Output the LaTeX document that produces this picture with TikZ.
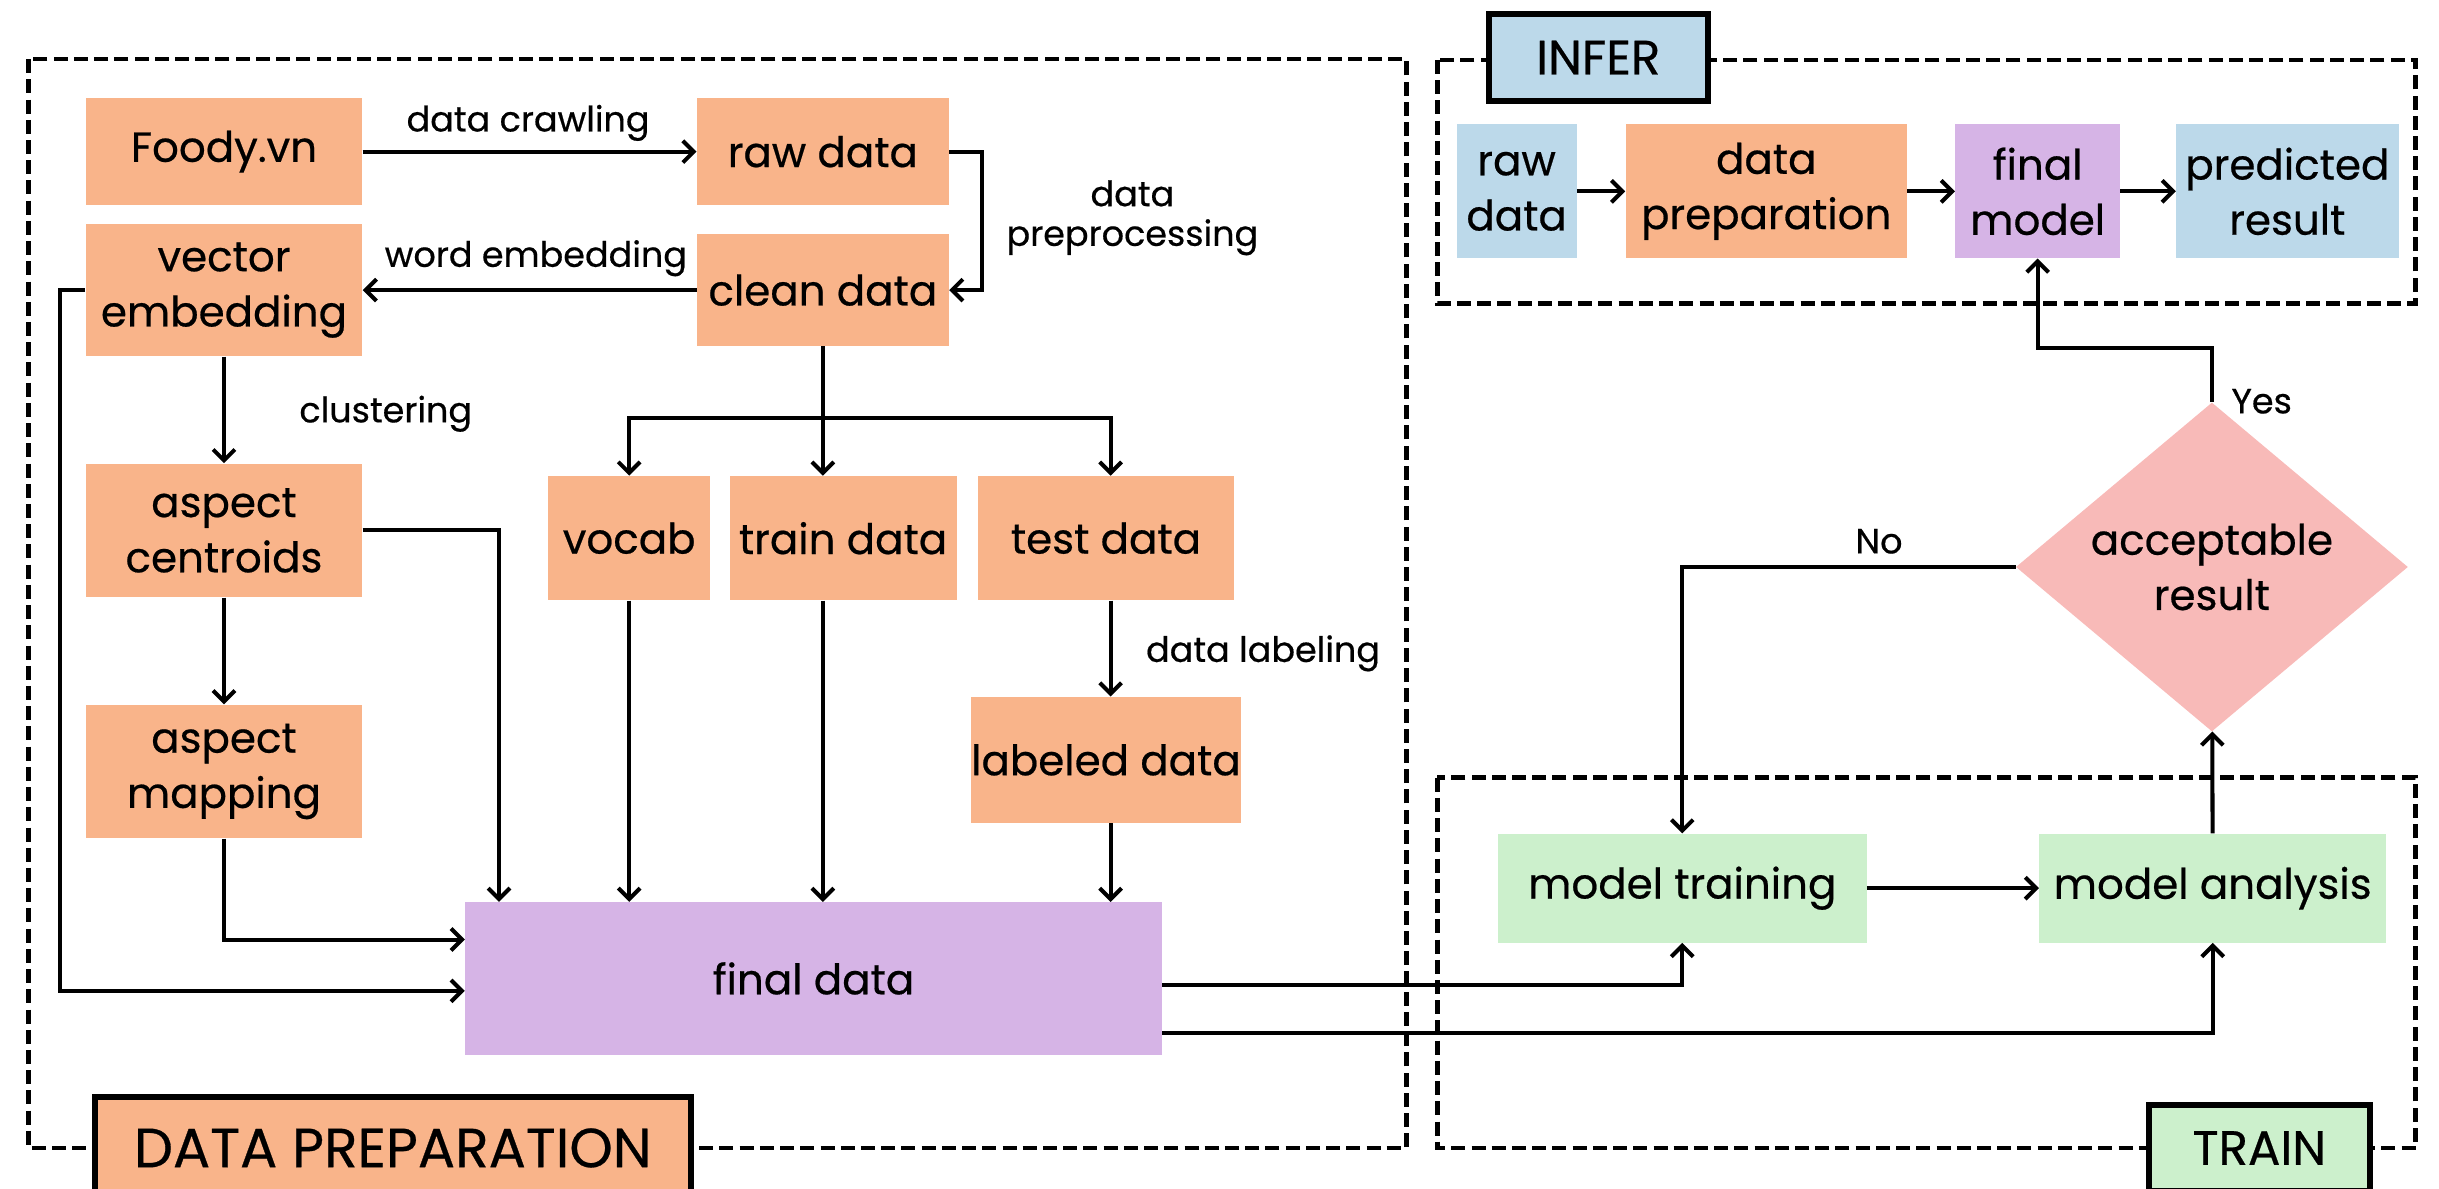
\documentclass[tikz,border=0pt]{standalone}
\usepackage{fontspec}
\setmainfont{Poppins}[FakeBold=0.5]
\usetikzlibrary{arrows.meta,shapes.geometric,calc}

\definecolor{prepfill}{RGB}{249,180,138}
\definecolor{finalfill}{RGB}{214,180,230}
\definecolor{inferfill}{RGB}{188,217,234}
\definecolor{trainfill}{RGB}{204,240,204}
\definecolor{decisionfill}{RGB}{248,186,184}

\tikzset{
  box/.style={rectangle, inner sep=0pt, align=center,
    font=\fontsize{27}{35.5}\selectfont},
  prep/.style={box, fill=prepfill},
  fin/.style={box, fill=finalfill},
  inf/.style={box, fill=inferfill},
  trn/.style={box, fill=trainfill},
  decision/.style={diamond, fill=decisionfill, inner sep=0pt, align=center,
    font=\fontsize{27}{35.5}\selectfont},
  arr/.style={line width=2.6pt, -{Straight Barb[length=7pt,width=14pt]}},
  elabel/.style={inner sep=0pt, align=center, font=\fontsize{22.5}{25.5}\selectfont},
  frame/.style={line width=3pt, dash pattern=on 9pt off 4pt},
  tag/.style={draw, line width=4pt, inner sep=0pt, align=center}
}

\begin{document}
\begin{tikzpicture}[x=1pt,y=-1pt]
\useasboundingbox (0,0) rectangle (1568,764);

% stage frames
\draw[frame] (18.5,38) rectangle (904,738);
\draw[frame] (924,38.6) rectangle (1553,195);
\draw[frame] (924,500) rectangle (1553,738);

% stage tags
\node[tag, fill=prepfill, minimum width=383pt, minimum height=66pt,
  font=\fontsize{35.5}{38}\selectfont] (tagprep) at (252.5,738) {DATA PREPARATION};
\node[tag, fill=inferfill, minimum width=141pt, minimum height=56pt,
  font=\fontsize{31}{34}\selectfont] (taginfer) at (1027.5,37) {INFER};
\node[tag, fill=trainfill, minimum width=142pt, minimum height=55pt,
  font=\fontsize{31}{34}\selectfont] (tagtrain) at (1452.5,738) {TRAIN};

% data preparation nodes
\node[prep, minimum width=178pt, minimum height=69pt] (foody) at (144,97.5) {Foody.vn};
\node[prep, minimum width=162pt, minimum height=69pt] (raw) at (529,97.5) {raw data};
\node[prep, minimum width=178pt, minimum height=85pt] (vec) at (144,186.5) {vector\\embedding};
\node[prep, minimum width=162pt, minimum height=72pt] (clean) at (529,186.5) {clean data};
\node[prep, minimum width=178pt, minimum height=86pt] (cent) at (144,341) {aspect\\centroids};
\node[prep, minimum width=178pt, minimum height=86pt] (map) at (144,496) {aspect\\mapping};
\node[prep, minimum width=104pt, minimum height=80pt] (vocab) at (404.5,346) {vocab};
\node[prep, minimum width=146pt, minimum height=80pt] (train) at (542,346) {train data};
\node[prep, minimum width=165pt, minimum height=80pt] (test) at (711,346) {test data};
\node[prep, minimum width=174pt, minimum height=81pt] (labeled) at (711,488.5) {labeled data};
\node[fin, minimum width=448pt, minimum height=98pt] (final) at (523,629) {final data};

% inference nodes
\node[inf, minimum width=77pt, minimum height=86pt] (iraw) at (975,123) {raw\\data};
\node[prep, minimum width=181pt, minimum height=86pt] (iprep) at (1135.5,123) {data\\preparation};
\node[fin, minimum width=106pt, minimum height=86pt] (imodel) at (1310,123) {final\\model};
\node[inf, minimum width=143pt, minimum height=86pt] (ipred) at (1470.5,123) {predicted\\result};

% training nodes
\node[trn, minimum width=237pt, minimum height=70pt] (mtrain) at (1081.5,571) {model training};
\node[trn, minimum width=223pt, minimum height=70pt] (manal) at (1422.5,571) {model analysis};
\node[decision, minimum width=252pt, minimum height=186pt] (accept) at (1422,364.5) {acceptable\\result};

% data preparation flow
\draw[arr] (foody) -- (raw);
\node[elabel] (lcrawl) at (339.5,79) {data crawling};
\draw[arr] (raw.east) -- ++(21,0) |- (clean.east);
\node[elabel] (lprep) at (728,140) {data\\preprocessing};
\draw[arr] (clean) -- (vec);
\node[elabel] (lembed) at (344.5,166) {word embedding};
\draw[arr] (vec) -- (cent);
\node[elabel] (lclust) at (248,266) {clustering};
\draw[arr] (cent) -- (map);

% split of the clean data
\coordinate (split) at (529,269);
\draw[arr] (clean.south) -- (clean.south |- train.north);
\draw[arr] (split) -| (vocab.north);
\draw[arr] (split) -| ($(test.north)+(3,0)$);
\draw[arr] ($(test.south)+(3,0)$) -- ($(labeled.north)+(3,0)$);
\node[elabel] (llabel) at (812,420) {data labeling};

% inputs of the final data
\draw[arr] (cent.east) -| ($(final.north west)+(22,0)$);
\draw[arr] (vocab.south) -- (vocab.south |- final.north);
\draw[arr] (clean.south |- train.south) -- (clean.south |- final.north);
\draw[arr] ($(labeled.south)+(3,0)$) -- ($(labeled.south |- final.north)+(3,0)$);
\draw[arr] (map.south) |- ($(final.west)+(0,-25)$);
\draw[arr] (vec.west) -- ++(-16,0) |- ($(final.west)+(0,8)$);

% training loop
\draw[arr] ($(final.east)+(0,4)$) -| (mtrain.south);
\draw[arr] ($(final.east)+(0,35)$) -| (manal.south);
\draw[arr] (mtrain) -- (manal);
\draw[arr] (manal) -- (accept);
\draw[arr] (accept.west) -| (mtrain.north);
\node[elabel] (lno) at (1208,348) {No};
\draw[arr] (accept.north) -- ++(0,-35) -| (imodel.south);
\node[elabel] (lyes) at (1454,258) {Yes};

% inference flow
\draw[arr] (iraw) -- (iprep);
\draw[arr] (iprep) -- (imodel);
\draw[arr] (imodel) -- (ipred);
\end{tikzpicture}
\end{document}
